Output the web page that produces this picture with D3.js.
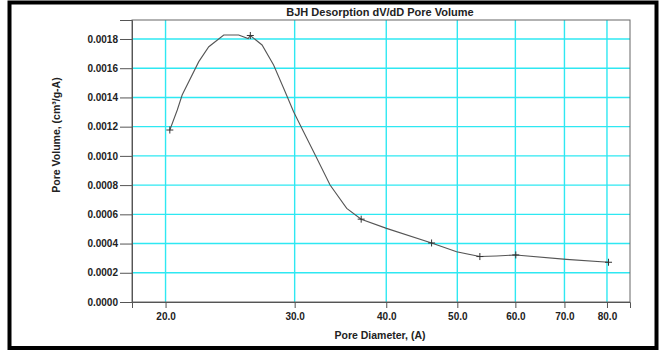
<!DOCTYPE html>
<html>
<head>
<meta charset="utf-8">
<script src="https://cdn.jsdelivr.net/npm/d3@7"></script>
<style>
  body { margin: 0; background: #fff; }
  svg { display: block; font-family: "Liberation Sans", Arial, sans-serif; }
</style>
</head>
<body>
<svg width="662" height="351"></svg>
<script>
// curve points (diameter A, pore volume cm3/g-A)
var lineDiam = [20.27, 20.75, 21.07, 22.20, 22.91, 24.01, 25.16, 25.92, 26.10,
                27.08, 28.08, 28.98, 29.90, 30.85, 32.00, 33.53, 35.33, 36.97,
                40.03, 46.12, 49.89, 53.67, 56.55, 60.08, 70.43, 80.39];
var lineVol = [0.001177, 0.001314, 0.001417, 0.001645, 0.001747, 0.001827, 0.001827, 0.001803, 0.001824,
               0.001759, 0.001622, 0.001463, 0.001302, 0.001166, 0.001006, 0.000801, 0.000641, 0.000567,
               0.000504, 0.000404, 0.000344, 0.000311, 0.000315, 0.000322, 0.000292, 0.000272];
// measured points shown with a "+"
var markDiam = [20.27, 26.10, 36.97, 46.12, 53.67, 60.08, 80.39];
var markVol = [0.001177, 0.001824, 0.000567, 0.000404, 0.000311, 0.000322, 0.000272];

var xTicks = [20, 30, 40, 50, 60, 70, 80];
var yTicks = [0, 0.0002, 0.0004, 0.0006, 0.0008, 0.0010, 0.0012, 0.0014, 0.0016, 0.0018];

var svg = d3.select("svg");
var plotLeft = 132, plotRight = 630, plotTop = 20, plotBottom = 302;

var x = d3.scaleLog().domain([18, 86]).range([plotLeft, plotRight]);
var y = d3.scaleLinear().domain([0, 0.00193]).range([plotBottom, plotTop]);

// frame around the picture
svg.append("rect").attr("x", 9.5).attr("y", 2.5).attr("width", 647).attr("height", 345.5)
    .attr("fill", "none").attr("stroke", "#000").attr("stroke-width", 4);

// grid
svg.append("g").selectAll("line").data(yTicks.slice(1)).enter().append("line")
    .attr("x1", plotLeft).attr("x2", plotRight)
    .attr("y1", function(d) { return y(d) }).attr("y2", function(d) { return y(d) })
    .attr("stroke", "#2ee8f2").attr("stroke-width", 1.4);
svg.append("g").selectAll("line").data(xTicks).enter().append("line")
    .attr("x1", function(d) { return x(d) }).attr("x2", function(d) { return x(d) })
    .attr("y1", plotTop).attr("y2", plotBottom)
    .attr("stroke", "#2ee8f2").attr("stroke-width", 1.4);

// plot box
svg.append("rect").attr("x", plotLeft).attr("y", plotTop)
    .attr("width", plotRight - plotLeft).attr("height", plotBottom - plotTop)
    .attr("fill", "none").attr("stroke", "#666").attr("stroke-width", 1);

// axes
var yAxis = d3.axisLeft(y).tickValues(yTicks).tickFormat(d3.format(".4f")).tickSize(12).tickPadding(2);
var xAxis = d3.axisBottom(x).tickValues(xTicks).tickFormat(d3.format(".1f")).tickSize(6).tickPadding(5);

var gy = svg.append("g").attr("transform", "translate(" + plotLeft + ",0)").call(yAxis);
var gx = svg.append("g").attr("transform", "translate(0," + plotBottom + ")").call(xAxis);
[gy, gx].forEach(function(g) {
    g.select(".domain").attr("stroke", "#555");
    g.selectAll(".tick line").attr("stroke", "#555");
    g.selectAll("text").attr("fill", "#222").style("font-size", "10px").style("font-weight", "bold")
	.style("font-family", "'Liberation Sans', Arial, sans-serif");
});

// curve
var line = d3.line().x(function(d) { return x(d[0]) }).y(function(d) { return y(d[1]) });
svg.append("path").datum(d3.zip(lineDiam, lineVol))
    .attr("d", line).attr("fill", "none").attr("stroke", "#555").attr("stroke-width", 1.1);

// markers
svg.append("g").selectAll("path").data(d3.zip(markDiam, markVol)).enter().append("path")
    .attr("d", function(d) {
	var cx = x(d[0]), cy = y(d[1]);
	return "M" + (cx - 3.5) + "," + cy + "H" + (cx + 3.5) + "M" + cx + "," + (cy - 3.5) + "V" + (cy + 3.5);
    })
    .attr("stroke", "#333").attr("stroke-width", 1);

// titles
svg.append("text").attr("x", 380).attr("y", 16).attr("text-anchor", "middle")
    .style("font-size", "11px").style("font-weight", "bold").attr("fill", "#222")
    .text("BJH Desorption dV/dD Pore Volume");
svg.append("text").attr("x", 380).attr("y", 339).attr("text-anchor", "middle")
    .style("font-size", "10.5px").style("font-weight", "bold").attr("fill", "#222")
    .text("Pore Diameter, (A)");
svg.append("text").attr("transform", "translate(60,135) rotate(-90)").attr("text-anchor", "middle")
    .style("font-size", "10.5px").style("font-weight", "bold").attr("fill", "#222")
    .text("Pore Volume, (cm³/g-A)");
</script>
</body>
</html>
